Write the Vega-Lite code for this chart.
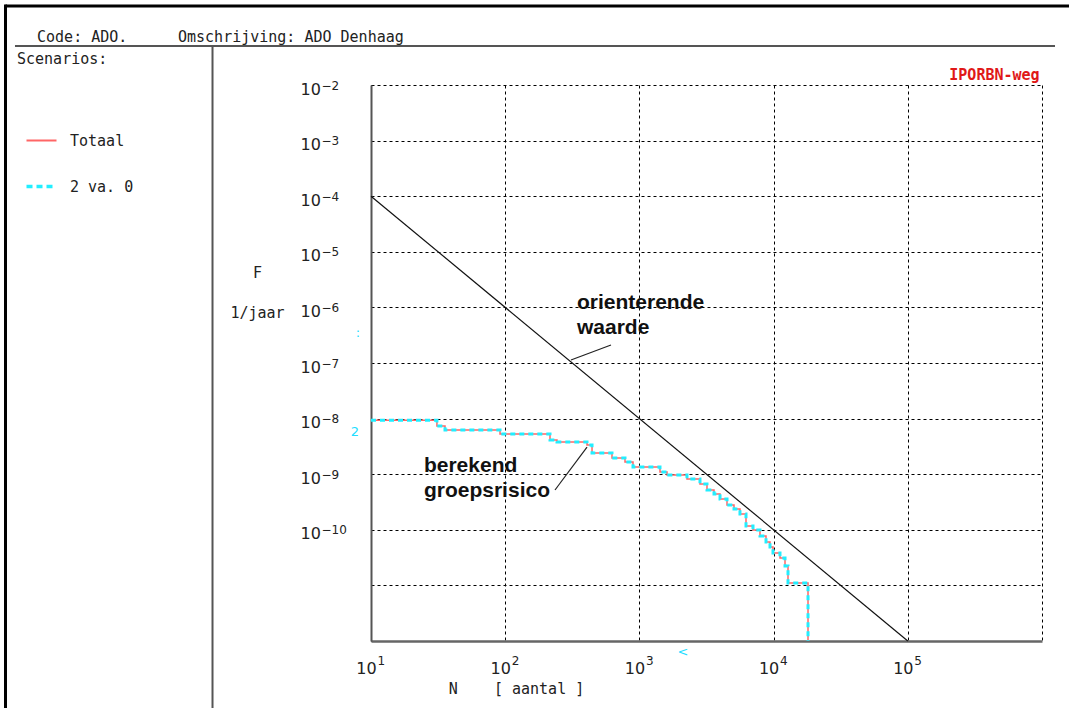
{
  "$schema": "https://vega.github.io/schema/vega-lite/v6.json",
  "width": 671,
  "height": 556,
  "autosize": {"type": "none"},
  "padding": {"left": 371, "top": 85, "right": 27, "bottom": 67},
  "background": "white",
  "config": {"view": {"stroke": null}},
  "resolve": {"axis": {"x": "independent", "y": "independent"}},
  "datasets": {
    "curve": [
      {"N": 10, "F": 9.3e-9},
      {"N": 31, "F": 7.36e-9},
      {"N": 35.6, "F": 6.24e-9},
      {"N": 91.5, "F": 5.28e-9},
      {"N": 215.7, "F": 4.12e-9},
      {"N": 243.2, "F": 3.79e-9},
      {"N": 406.9, "F": 3.35e-9},
      {"N": 443.6, "F": 2.4e-9},
      {"N": 624.9, "F": 1.95e-9},
      {"N": 781, "F": 1.66e-9},
      {"N": 896, "F": 1.35e-9},
      {"N": 1424, "F": 1.1e-9},
      {"N": 1606, "F": 9.68e-10},
      {"N": 2263, "F": 8.2e-10},
      {"N": 2828, "F": 6.67e-10},
      {"N": 3189, "F": 5.2e-10},
      {"N": 3597, "F": 4.41e-10},
      {"N": 3988, "F": 3.58e-10},
      {"N": 4496, "F": 2.79e-10},
      {"N": 5069, "F": 2.37e-10},
      {"N": 5617, "F": 1.92e-10},
      {"N": 6228, "F": 1.17e-10},
      {"N": 7022, "F": 9.9e-11},
      {"N": 7918, "F": 7.73e-11},
      {"N": 8778, "F": 6.04e-11},
      {"N": 9402, "F": 4.91e-11},
      {"N": 9897, "F": 3.83e-11},
      {"N": 11160, "F": 3.11e-11},
      {"N": 12162, "F": 2.23e-11},
      {"N": 12804, "F": 1.1e-11},
      {"N": 18048, "F": 1e-12}
    ],
    "norm": [
      {"N": 10, "F": 1e-4},
      {"N": 100000, "F": 1e-12}
    ],
    "border": [
      {"N": 0.0189, "F": 0.28, "N2": 0.0189, "F2": 1e-14},
      {"N": 0.0189, "F": 0.2636, "N2": 1e7, "F2": 0.2636}
    ],
    "dividers": [
      {"N": 0.02224, "F": 0.05029, "N2": 1250000, "F2": 0.05029},
      {"N": 0.6592, "F": 0.05029, "N2": 0.6592, "F2": 1e-14}
    ],
    "leaders": [
      {"N": 309, "F": 1.13e-7, "N2": 614, "F2": 2.11e-7},
      {"N": 235, "F": 5.2e-10, "N2": 407, "F2": 3.08e-9}
    ],
    "header": [
      {"N": 0.03245, "F": 0.05935, "label": "Code: ADO."},
      {"N": 0.3645, "F": 0.05935, "label": "Omschrijving: ADO Denhaag"}
    ],
    "notes": [
      {"N": 342.8, "F": 9.36e-7, "label": "orienterende"},
      {"N": 342.8, "F": 3.33e-7, "label": "waarde"},
      {"N": 24.8, "F": 1.096e-9, "label": "berekend"},
      {"N": 24.8, "F": 3.89e-10, "label": "groepsrisico"}
    ],
    "badge": [
      {"N": 960000, "F": 0.0123, "label": "IPORBN-weg"}
    ],
    "strays": [
      {"N": 7.6, "F": 5.74e-9, "label": "2"},
      {"N": 8.0, "F": 3.47e-7, "label": ":"},
      {"N": 2109, "F": 6.3e-13, "label": "<"}
    ]
  },
  "encoding": {
    "x": {
      "field": "N",
      "type": "quantitative",
      "scale": {"type": "log", "domain": [10, 1000000], "nice": false, "zero": false},
      "axis": null
    },
    "y": {
      "field": "F",
      "type": "quantitative",
      "scale": {"type": "log", "domain": [1e-12, 1e-2], "nice": false, "zero": false},
      "axis": null
    }
  },
  "layer": [
    {
      "data": {"name": "border"},
      "mark": {"type": "rule", "color": "#000", "strokeWidth": 3},
      "encoding": {"x2": {"field": "N2"}, "y2": {"field": "F2"}}
    },
    {
      "data": {"name": "dividers"},
      "mark": {"type": "rule", "color": "#555", "strokeWidth": 2},
      "encoding": {"x2": {"field": "N2"}, "y2": {"field": "F2"}}
    },
    {
      "data": {"name": "norm"},
      "mark": {"type": "line", "color": "#111", "strokeWidth": 1.2},
      "encoding": {
        "x": {
          "field": "N",
          "type": "quantitative",
          "scale": {"type": "log", "domain": [10, 1000000], "nice": false, "zero": false},
          "axis": {
            "orient": "bottom",
            "title": "N\u00a0\u00a0\u00a0\u00a0[ aantal ]",
            "values": [10, 100, 1000, 10000, 100000, 1000000],
            "labelExpr": "round(log(datum.value)/LN10) > 5 ? '' : '10'",
            "grid": true,
            "gridColor": "#000",
            "gridDash": [3, 3],
            "gridWidth": 1,
            "gridOpacity": 1,
            "ticks": false,
            "tickSize": 0,
            "domainColor": "#666",
            "domainWidth": 2.5,
            "labelFont": "DejaVu Sans",
            "labelFontSize": 16,
            "labelColor": "#222",
            "labelAlign": "center",
            "labelBaseline": "top",
            "labelOffset": -5,
            "labelPadding": 19,
            "labelFlush": false,
            "labelOverlap": false,
            "titleFont": "DejaVu Sans Mono",
            "titleFontSize": 15,
            "titleFontWeight": "normal",
            "titleColor": "#222",
            "titleX": 145,
            "titleY": 47,
            "titleAlign": "center",
            "titleBaseline": "middle"
          }
        },
        "y": {
          "field": "F",
          "type": "quantitative",
          "scale": {"type": "log", "domain": [1e-12, 1e-2], "nice": false, "zero": false},
          "axis": {
            "orient": "left",
            "title": ["F", "1/jaar"],
            "values": [1e-2, 1e-3, 1e-4, 1e-5, 1e-6, 1e-7, 1e-8, 1e-9, 1e-10, 1e-11, 1e-12],
            "labelExpr": "round(log(datum.value)/LN10) < -10 ? '' : '10'",
            "grid": true,
            "gridColor": "#000",
            "gridDash": [3, 3],
            "gridWidth": 1,
            "gridOpacity": 1,
            "ticks": false,
            "tickSize": 0,
            "domainColor": "#555",
            "domainWidth": 2,
            "labelFont": "DejaVu Sans",
            "labelFontSize": 16,
            "labelColor": "#222",
            "labelAlign": "left",
            "labelBaseline": "middle",
            "labelPadding": 71,
            "labelOffset": 4,
            "labelFlush": false,
            "labelOverlap": false,
            "titleFont": "DejaVu Sans Mono",
            "titleFontSize": 15,
            "titleFontWeight": "normal",
            "titleColor": "#222",
            "titleAngle": 0,
            "titleX": -114,
            "titleY": 187,
            "titleAlign": "center",
            "titleBaseline": "middle",
            "titleLineHeight": 40
          }
        }
      }
    },
    {
      "data": {"name": "curve"},
      "mark": {"type": "line", "interpolate": "step-after", "strokeWidth": 1.5},
      "encoding": {
        "x": {
          "field": "N",
          "type": "quantitative",
          "scale": {"type": "log", "domain": [10, 1000000], "nice": false, "zero": false},
          "axis": {
            "orient": "bottom",
            "title": null,
            "values": [10, 100, 1000, 10000, 100000, 1000000],
            "labelExpr": "round(log(datum.value)/LN10) > 5 ? '' : '' + round(log(datum.value)/LN10)",
            "grid": false,
            "domain": false,
            "ticks": false,
            "tickSize": 0,
            "labelFont": "DejaVu Sans",
            "labelFontSize": 12,
            "labelColor": "#222",
            "labelAlign": "left",
            "labelBaseline": "top",
            "labelOffset": 6,
            "labelPadding": 14,
            "labelFlush": false,
            "labelOverlap": false
          }
        },
        "y": {
          "field": "F",
          "type": "quantitative",
          "scale": {"type": "log", "domain": [1e-12, 1e-2], "nice": false, "zero": false},
          "axis": {
            "orient": "left",
            "title": null,
            "values": [1e-2, 1e-3, 1e-4, 1e-5, 1e-6, 1e-7, 1e-8, 1e-9, 1e-10, 1e-11, 1e-12],
            "labelExpr": "round(log(datum.value)/LN10) < -10 ? '' : '−' + (-round(log(datum.value)/LN10))",
            "grid": false,
            "domain": false,
            "ticks": false,
            "tickSize": 0,
            "labelFont": "DejaVu Sans",
            "labelFontSize": 12,
            "labelColor": "#222",
            "labelAlign": "left",
            "labelBaseline": "middle",
            "labelPadding": 50,
            "labelOffset": 0,
            "labelFlush": false,
            "labelOverlap": false
          }
        },
        "color": {
          "datum": "Totaal",
          "type": "nominal",
          "scale": {"domain": ["Totaal", "2 va. 0"], "range": ["#ff6666", "#22eeff"]},
          "legend": {
            "title": "Scenarios:",
            "orient": "none",
            "legendX": -354,
            "legendY": -33,
            "padding": 0,
            "titleFont": "DejaVu Sans Mono",
            "titleFontSize": 15,
            "titleFontWeight": "normal",
            "titleColor": "#222",
            "titlePadding": 66,
            "labelFont": "DejaVu Sans Mono",
            "labelFontSize": 15,
            "labelColor": "#222",
            "symbolType": "stroke",
            "symbolSize": 900,
            "symbolStrokeWidth": 3,
            "symbolOffset": 17,
            "labelOffset": 21,
            "rowPadding": 30,
            "encode": {
              "symbols": {
                "update": {
                  "strokeDash": {"signal": "datum.value === '2 va. 0' ? [6, 4] : [1, 0]"},
                  "strokeWidth": {"signal": "datum.value === '2 va. 0' ? 3.5 : 2"}
                }
              }
            }
          }
        }
      }
    },
    {
      "data": {"name": "curve"},
      "mark": {"type": "line", "interpolate": "step-after", "strokeWidth": 3, "strokeDash": [5, 4]},
      "encoding": {
        "color": {"datum": "2 va. 0", "type": "nominal"}
      }
    },
    {
      "data": {"name": "leaders"},
      "mark": {"type": "rule", "color": "#222", "strokeWidth": 1.2},
      "encoding": {"x2": {"field": "N2"}, "y2": {"field": "F2"}}
    },
    {
      "data": {"name": "notes"},
      "mark": {"type": "text", "align": "left", "baseline": "alphabetic", "font": "Liberation Sans", "fontSize": 21, "fontWeight": "bold", "color": "#111"},
      "encoding": {"text": {"field": "label"}}
    },
    {
      "data": {"name": "header"},
      "mark": {"type": "text", "align": "left", "baseline": "alphabetic", "font": "DejaVu Sans Mono", "fontSize": 15, "color": "#222"},
      "encoding": {"text": {"field": "label"}}
    },
    {
      "data": {"name": "badge"},
      "mark": {"type": "text", "align": "right", "baseline": "alphabetic", "font": "DejaVu Sans Mono", "fontSize": 15, "fontWeight": "bold", "color": "#e01818"},
      "encoding": {"text": {"field": "label"}}
    },
    {
      "data": {"name": "strays"},
      "mark": {"type": "text", "align": "center", "baseline": "middle", "font": "DejaVu Sans", "fontSize": 13, "color": "#22ddff"},
      "encoding": {"text": {"field": "label"}}
    }
  ]
}
